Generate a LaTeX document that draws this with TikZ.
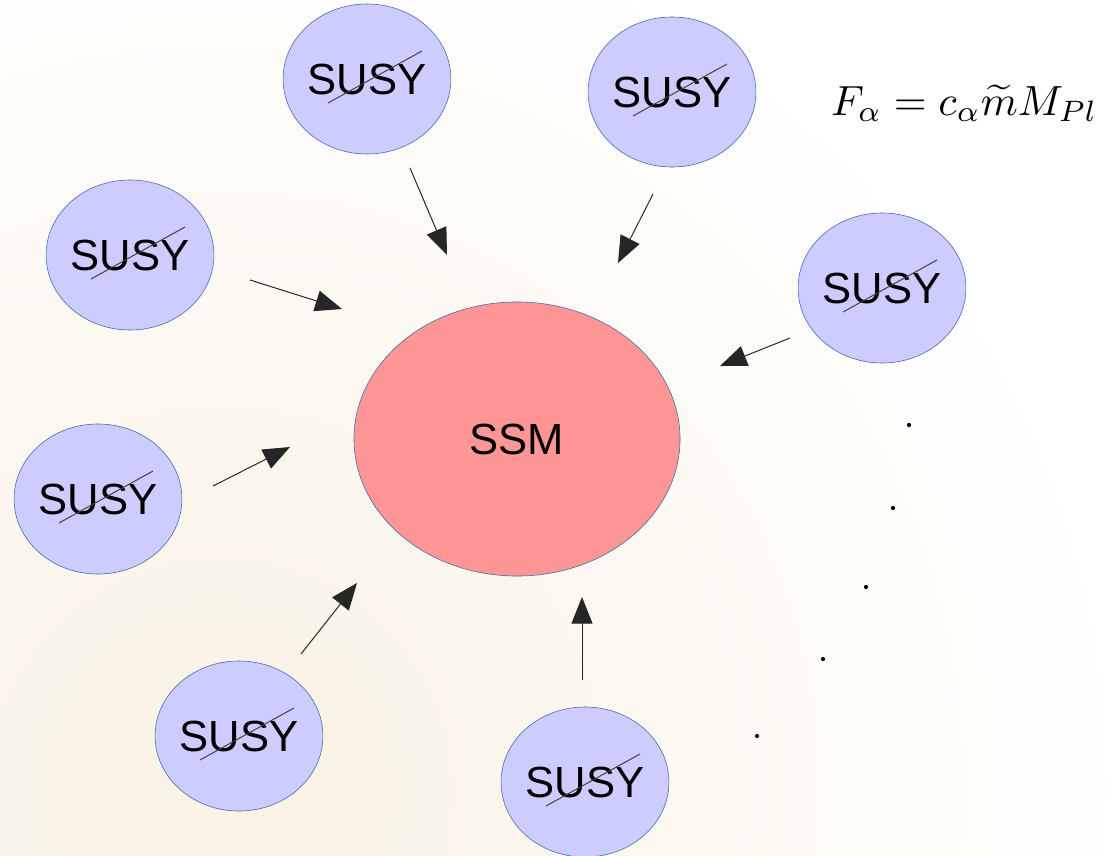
\documentclass[tikz,border=0pt]{standalone}
\usepackage{fontspec}
\setmainfont{Liberation Sans}
\usepackage{tikz}
\usetikzlibrary{arrows.meta,shapes.geometric}
\definecolor{susyblue}{RGB}{204,204,255}
\definecolor{ssmred}{RGB}{255,150,150}
\definecolor{rimblue}{RGB}{60,105,170}
\definecolor{paper}{RGB}{249,242,228}
\begin{document}
\begin{tikzpicture}[x=0.025cm, y=-0.025cm, >={Triangle[length=19pt,width=15pt]},
    susy/.style={ellipse, draw=rimblue, fill=susyblue, inner sep=0pt, minimum width=4.15cm, minimum height=3.75cm, font=\fontsize{31}{37}\selectfont},
    feed/.style={->, line width=0.7pt, draw=black!85},
    slash/.style={draw=black!75, line width=0.7pt}]
        \useasboundingbox (0,0) rectangle (1107,856);
        \begin{scope}
            \clip (0,0) rectangle (1107,856);
            \fill[white] (0,0) rectangle (1107,856);
            \shade[inner color=paper, outer color=white] (220,790) circle (23cm);
        \end{scope}

        \node (ssm) [ellipse, draw=rimblue, fill=ssmred, inner sep=0pt, minimum width=8.15cm, minimum height=6.85cm, font=\fontsize{31}{37}\selectfont] at (517,439) {SSM};

        \node (s1) [susy] at (367,79) {SUSY};
        \node (s2) [susy] at (672,92) {SUSY};
        \node (s3) [susy] at (130,255) {SUSY};
        \node (s4) [susy, minimum width=3.85cm] at (882,288) {SUSY};
        \node (s5) [susy] at (98,499) {SUSY};
        \node (s6) [susy] at (239,736) {SUSY};
        \node (s7) [susy] at (585,782) {SUSY};

        % broken SUSY strike
        \foreach \n in {s1,s2,s3,s4,s5,s6,s7}
            \draw[slash] ([shift={(-39,24)}]\n.center) -- ([shift={(55,-28)}]\n.center);

        \coordinate (t1) at (410,168); \coordinate (h1) at (447,255);
        \coordinate (t2) at (653,194); \coordinate (h2) at (618,263);
        \coordinate (t3) at (250,280); \coordinate (h3) at (342,309);
        \coordinate (t4) at (790,338); \coordinate (h4) at (720,366);
        \coordinate (t5) at (213,486); \coordinate (h5) at (290,447);
        \coordinate (t6) at (301,654); \coordinate (h6) at (357,583);
        \coordinate (t7) at (582,680); \coordinate (h7) at (582,597);
        \foreach \i in {1,...,7}
            \draw[feed] (t\i) -- (h\i);

        \foreach \x/\y in {909/425, 893/508, 866/587, 823/659, 757/736}
            \fill (\x,\y) circle (1.5pt);

        \node (eq) [anchor=base east, inner sep=0pt] at (1098,115) {\scalebox{3.0}{$F_\alpha = c_\alpha\widetilde{m}M_{Pl}$}};
      \end{tikzpicture}
\end{document}
